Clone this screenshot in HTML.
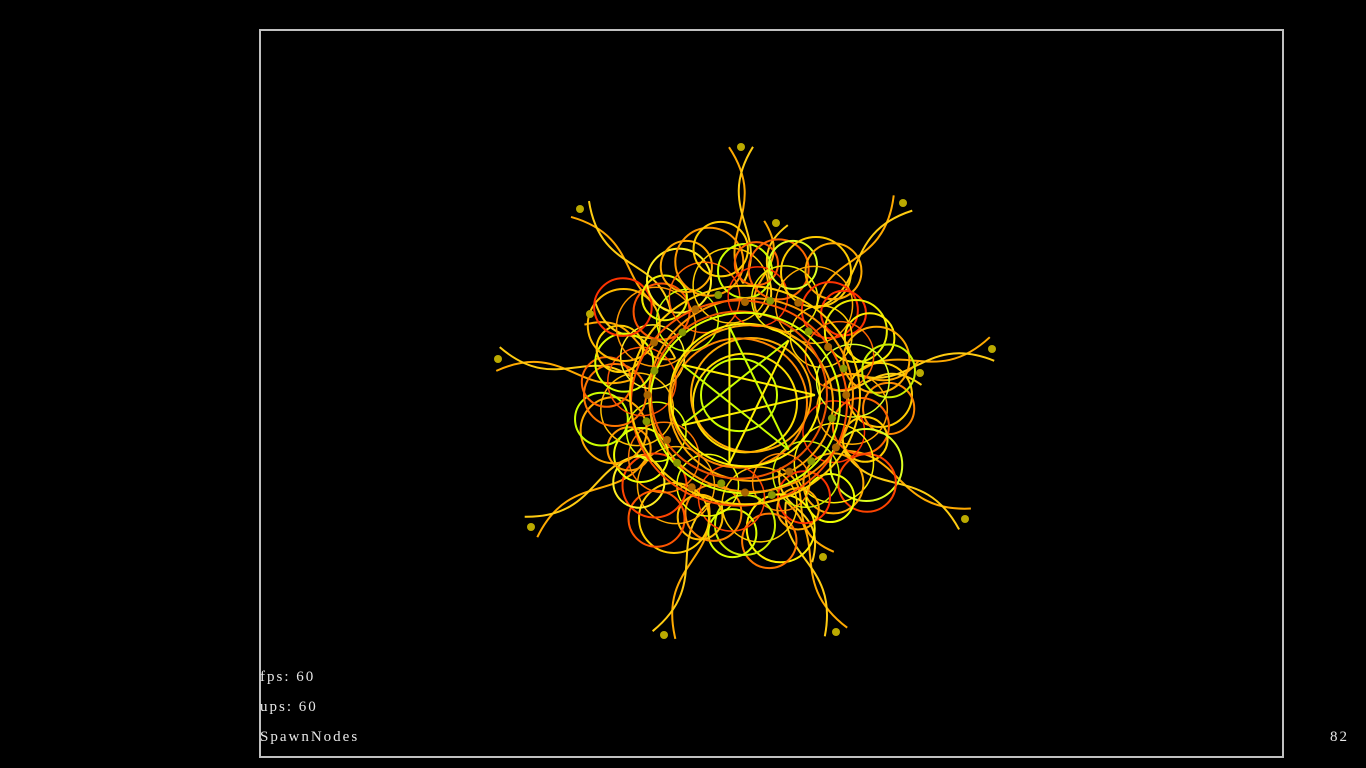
<!DOCTYPE html>
<html><head><meta charset="utf-8"><style>
html,body{margin:0;padding:0;background:#000;width:1366px;height:768px;overflow:hidden}
#frame{position:absolute;left:259px;top:29px;width:1021px;height:725px;border:2px solid #c0c0c0;box-sizing:content-box}
.t{position:absolute;color:#e8e8e8;font-family:"Liberation Serif",serif;font-size:15px;letter-spacing:2px}
svg{position:absolute;left:0;top:0}
</style></head><body>
<div id="frame"></div>
<svg id="s" width="1366" height="768"></svg>
<div class="t" style="left:260px;top:669px">fps: 60</div>
<div class="t" style="left:260px;top:699px">ups: 60</div>
<div class="t" style="left:260px;top:729px">SpawnNodes</div>
<div class="t" style="left:1330px;top:729px">82</div>
<script>
const center=[745,395];
const coreRadii=[38,52,60,68,75,82,88,95,102,108,115];
const coreColors=["#ccff00","#ffdd00","#ffaa00","#ff8800","#ffee00","#ffaa00","#ee5500","#ddff00","#ff9900","#ff5500","#ffcc00"];
const loopAngles=[0,15,30,45,60,75,90,105,120,135,150,165,180,195,210,225,240,255,270,285,300,315,330,345];
const loopDist=[135,120,140,125,118,138,130,122,142,128,120,136,130,125,140,118,132,138,124,130,142,120,128,136];
const loopR=[32,28,36,30,26,34,30,28,35,32,27,33,31,29,36,28,32,34,27,30,35,28,31,33];
const loopColors=["#ffcc00","#ff6600","#ddff22","#ffaa00","#ff3300","#ffee00","#ccee00","#ff8800","#ffcc00","#ff4400","#eeff00","#ffaa00","#ff7700","#ddff00","#ffbb00","#ff5500","#ffee22","#ff9900","#ccff00","#ff6600","#ffcc00","#ff3300","#eeee00","#ffaa00"];
const outerNodes=[[741,147],[580,209],[903,203],[776,223],[498,359],[992,349],[590,314],[531,527],[965,519],[664,635],[836,632],[823,557],[920,373]];
const s=document.getElementById('s');
const NS='http://www.w3.org/2000/svg';
function add(tag,attrs,name){const e=document.createElementNS(NS,tag);for(const k in attrs)e.setAttribute(k,attrs[k]);


s.appendChild(e);return e;}
outerNodes.forEach((p,i)=>{
 const dx=p[0]-center[0],dy=p[1]-center[1];const L=Math.hypot(dx,dy);const nx=-dy/L,ny=dx/L;
 const sx=center[0]+dx*0.45,sy=center[1]+dy*0.45;
 for(let k=-1;k<=1;k+=2){
  const a=28*k;
  const d=`M${sx},${sy} C${sx+dx*0.2+nx*a},${sy+dy*0.2+ny*a} ${p[0]-dx*0.25-nx*a},${p[1]-dy*0.25-ny*a} ${p[0]+nx*k*12},${p[1]+ny*k*12}`;
  add('path',{d,fill:'none',stroke:k<0?'#ffaa00':'#ffcc11','stroke-width':2},'tail-curve');
 }
});
loopAngles.forEach((a,i)=>{
 const r=a*Math.PI/180;const cx=center[0]+Math.cos(r)*loopDist[i],cy=center[1]+Math.sin(r)*loopDist[i];
 add('circle',{cx,cy,r:loopR[i],fill:'none',stroke:loopColors[i],'stroke-width':2},'orbit-loop');
 add('circle',{cx:cx+Math.cos(r+1)*loopR[i]*0.5,cy:cy+Math.sin(r+1)*loopR[i]*0.5,r:loopR[i]*0.8,fill:'none',stroke:loopColors[(i+7)%24],'stroke-width':2},'orbit-loop');
 add('circle',{cx:center[0]+Math.cos(r+0.13)*loopDist[i]*0.8,cy:center[1]+Math.sin(r+0.13)*loopDist[i]*0.8,r:loopR[i]*1.1,fill:'none',stroke:loopColors[(i+3)%24],'stroke-width':1.5},'orbit-loop');
});
coreRadii.forEach((R,i)=>{
 add('ellipse',{cx:center[0]+(i%3-1)*6,cy:center[1]+(i%2)*8,rx:R,ry:R*0.95,fill:'none',stroke:coreColors[i],'stroke-width':2},'core-ring');
});
for(let i=0;i<7;i++){const a1=i*2*Math.PI/7,a2=(i+3)*2*Math.PI/7;
 add('line',{x1:center[0]+Math.cos(a1)*70,y1:center[1]+Math.sin(a1)*70,x2:center[0]+Math.cos(a2)*70,y2:center[1]+Math.sin(a2)*70,stroke:i%2?'#ccff00':'#ffee00','stroke-width':2},'star-line');}
outerNodes.forEach(p=>add('circle',{cx:p[0],cy:p[1],r:4,fill:'#bbaa00'},'outer-node'));
loopAngles.forEach((a,i)=>{const r=a*Math.PI/180;
 add('circle',{cx:center[0]+Math.cos(r)*loopDist[i]*0.75,cy:center[1]+Math.sin(r)*loopDist[i]*0.75,r:4,fill:i%2?'#889900':'#aa6600'},'inner-node');});
</script>
</body></html>
